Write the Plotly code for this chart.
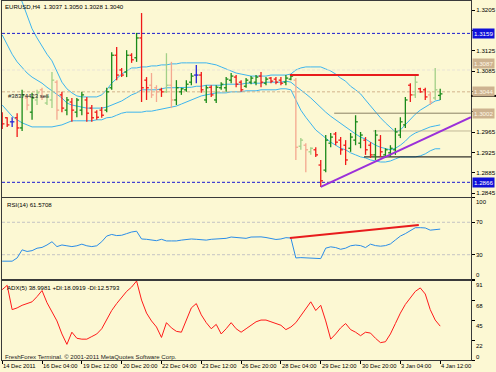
import plotly.graph_objects as go

# ---------------- data ----------------
X_LABELS = ["14 Dec 2011", "16 Dec 04:00", "19 Dec 12:00", "20 Dec 20:00", "22 Dec 04:00",
            "23 Dec 12:00", "26 Dec 20:00", "28 Dec 04:00", "29 Dec 12:00", "30 Dec 20:00",
            "3 Jan 04:00", "4 Jan 12:00"]
X_LABEL_BARS = [0, 8, 16, 24, 32, 40, 48, 56, 64, 72, 80, 88]

OPEN = [1.2996, 1.2993, 1.2985, 1.2993, 1.2973, 1.3032, 1.3004, 1.3028, 1.3048, 1.3022,
        1.3028, 1.3063, 1.3038, 1.3008, 1.3024, 1.3004, 1.3008, 1.3028, 1.3012, 1.3004,
        1.3008, 1.3008, 1.3052, 1.3116, 1.3087, 1.3083, 1.3116, 1.3111, 1.3150, 1.3067,
        1.3057, 1.3052, 1.3048, 1.3044, 1.3057, 1.3028, 1.3044, 1.3048, 1.3063, 1.3077,
        1.3077, 1.3028, 1.3053, 1.3028, 1.3052, 1.3052, 1.3067, 1.3073, 1.3063, 1.3055,
        1.3063, 1.3063, 1.3075, 1.3061, 1.3071, 1.3069, 1.3067, 1.3063, 1.3069, 1.3067,
        1.2937, 1.2939, 1.2926, 1.2930, 1.2900, 1.2890, 1.2943, 1.2961, 1.2949, 1.2939,
        1.2933, 1.2949, 1.2943, 1.2949, 1.2939, 1.2920, 1.2949, 1.2920, 1.2924, 1.2930,
        1.2959, 1.2979, 1.3057, 1.3038, 1.3050, 1.3048, 1.3038, 1.3032, 1.3037]
HIGH = [1.3004, 1.2994, 1.2994, 1.3002, 1.3048, 1.3038, 1.3042, 1.3048, 1.3052, 1.3038,
        1.3083, 1.3067, 1.3044, 1.3034, 1.3032, 1.3032, 1.3044, 1.3034, 1.3018, 1.3008,
        1.3014, 1.3052, 1.3122, 1.3132, 1.3091, 1.3126, 1.3120, 1.3160, 1.3199, 1.3073,
        1.3081, 1.3057, 1.3052, 1.3120, 1.3103, 1.3067, 1.3052, 1.3067, 1.3081, 1.3097,
        1.3083, 1.3057, 1.3057, 1.3057, 1.3063, 1.3073, 1.3081, 1.3077, 1.3067, 1.3071,
        1.3075, 1.3077, 1.3083, 1.3073, 1.3073, 1.3073, 1.3073, 1.3077, 1.3077, 1.3071,
        1.2953, 1.2943, 1.2935, 1.2935, 1.2910, 1.2959, 1.2963, 1.2965, 1.2955, 1.2949,
        1.2963, 1.2998, 1.2965, 1.2955, 1.2945, 1.2969, 1.2959, 1.2933, 1.2939, 1.2973,
        1.2994, 1.3034, 1.3061, 1.3077, 1.3052, 1.3052, 1.3044, 1.3091, 1.3050]
LOW = [1.2971, 1.2975, 1.2975, 1.2955, 1.2967, 1.3008, 1.2989, 1.3018, 1.3028, 1.3018,
       1.3012, 1.2989, 1.3004, 1.2998, 1.2985, 1.2994, 1.2998, 1.2985, 1.2985, 1.2989,
       1.2993, 1.3004, 1.3048, 1.3067, 1.3073, 1.3073, 1.3101, 1.3103, 1.3024, 1.3028,
       1.3032, 1.3024, 1.3034, 1.3042, 1.3012, 1.3018, 1.3038, 1.3044, 1.3057, 1.3061,
       1.3042, 1.3022, 1.3034, 1.3022, 1.3048, 1.3044, 1.3061, 1.3053, 1.3044, 1.3052,
       1.3059, 1.3057, 1.3053, 1.3057, 1.3061, 1.3059, 1.3057, 1.3057, 1.3067, 1.2910,
       1.2930, 1.2886, 1.2920, 1.2916, 1.2857, 1.2886, 1.2935, 1.2939, 1.2920, 1.2900,
       1.2926, 1.2939, 1.2933, 1.2920, 1.2914, 1.2910, 1.2916, 1.2914, 1.2916, 1.2920,
       1.2953, 1.2973, 1.3024, 1.3032, 1.3042, 1.3028, 1.3018, 1.3028, 1.3028]
CLOSE = [1.2981, 1.2979, 1.2985, 1.2973, 1.3038, 1.3018, 1.3032, 1.3042, 1.3034, 1.3034,
         1.3067, 1.3008, 1.3012, 1.3028, 1.3008, 1.3028, 1.3038, 1.3002, 1.2993, 1.2994,
         1.2998, 1.3044, 1.3116, 1.3077, 1.3077, 1.3116, 1.3107, 1.3150, 1.3052, 1.3052,
         1.3038, 1.3044, 1.3044, 1.3057, 1.3028, 1.3052, 1.3050, 1.3059, 1.3075, 1.3077,
         1.3048, 1.3052, 1.3038, 1.3053, 1.3059, 1.3069, 1.3075, 1.3059, 1.3048, 1.3067,
         1.3071, 1.3073, 1.3063, 1.3069, 1.3065, 1.3063, 1.3061, 1.3071, 1.3075, 1.2935,
         1.2949, 1.2930, 1.2933, 1.2920, 1.2869, 1.2949, 1.2955, 1.2945, 1.2930, 1.2910,
         1.2955, 1.2985, 1.2959, 1.2930, 1.2920, 1.2959, 1.2926, 1.2930, 1.2933, 1.2965,
         1.2985, 1.3028, 1.3038, 1.3063, 1.3044, 1.3034, 1.3024, 1.3048, 1.3040]
BAR_STYLE = ['r', 'r', 'b', 'r', 'g', 'lr', 'g', 'lg', 'lr', 'lg',
             'lg', 'lr', 'r', 'g', 'r', 'g', 'g', 'r', 'r', 'r',
             'r', 'g', 'g', 'r', 'r', 'g', 'r', 'g', 'r', 'r',
             'lr', 'lr', 'r', 'lg', 'lr', 'g', 'g', 'g', 'g', 'b',
             'r', 'g', 'r', 'g', 'g', 'g', 'g', 'r', 'r', 'g',
             'g', 'g', 'r', 'g', 'r', 'r', 'r', 'g', 'g', 'lr',
             'lg', 'lr', 'lg', 'r', 'r', 'g', 'g', 'r', 'r', 'r',
             'g', 'g', 'g', 'r', 'r', 'g', 'r', 'g', 'g', 'g',
             'g', 'g', 'r', 'lg', 'r', 'r', 'lr', 'lg', 'g']

BB_UPPER = [1.3313, 1.3288, 1.3262, 1.3240, 1.3221, 1.3195, 1.3168, 1.3150, 1.3134, 1.3118,
            1.3105, 1.3085, 1.3063, 1.3050, 1.3042, 1.3036, 1.3034, 1.3034, 1.3034, 1.3034,
            1.3038, 1.3048, 1.3061, 1.3071, 1.3079, 1.3085, 1.3091, 1.3091, 1.3093, 1.3093,
            1.3095, 1.3095, 1.3097, 1.3097, 1.3099, 1.3099, 1.3101, 1.3101, 1.3101, 1.3101,
            1.3101, 1.3101, 1.3099, 1.3097, 1.3093, 1.3089, 1.3085, 1.3081, 1.3079, 1.3077,
            1.3075, 1.3075, 1.3075, 1.3075, 1.3077, 1.3077, 1.3077, 1.3077, 1.3079, 1.3087,
            1.3091, 1.3093, 1.3093, 1.3093, 1.3093, 1.3089, 1.3085, 1.3079, 1.3071, 1.3065,
            1.3055, 1.3048, 1.3040, 1.3028, 1.3016, 1.3004, 1.2993, 1.2983, 1.2973, 1.2965,
            1.2969, 1.2979, 1.2991, 1.3000, 1.3008, 1.3014, 1.3020, 1.3026, 1.3028]
BB_MIDDLE = [1.3156, 1.3136, 1.3118, 1.3103, 1.3091, 1.3081, 1.3073, 1.3067, 1.3061, 1.3053,
             1.3046, 1.3038, 1.3032, 1.3022, 1.3018, 1.3016, 1.3014, 1.3012, 1.3012, 1.3012,
             1.3012, 1.3014, 1.3018, 1.3022, 1.3026, 1.3032, 1.3038, 1.3042, 1.3048, 1.3048,
             1.3048, 1.3048, 1.3050, 1.3052, 1.3052, 1.3052, 1.3053, 1.3053, 1.3053, 1.3055,
             1.3055, 1.3057, 1.3057, 1.3057, 1.3057, 1.3059, 1.3059, 1.3059, 1.3059, 1.3061,
             1.3061, 1.3061, 1.3061, 1.3063, 1.3063, 1.3063, 1.3063, 1.3065, 1.3063, 1.3055,
             1.3048, 1.3040, 1.3032, 1.3022, 1.3012, 1.3004, 1.2996, 1.2989, 1.2981, 1.2975,
             1.2967, 1.2961, 1.2955, 1.2951, 1.2945, 1.2939, 1.2935, 1.2932, 1.2930, 1.2933,
             1.2939, 1.2947, 1.2957, 1.2963, 1.2967, 1.2971, 1.2975, 1.2977, 1.2979]
BB_LOWER = [1.3018, 1.3006, 1.2996, 1.2989, 1.2983, 1.2979, 1.2975, 1.2975, 1.2975, 1.2975,
            1.2975, 1.2977, 1.2979, 1.2983, 1.2987, 1.2987, 1.2987, 1.2987, 1.2987, 1.2989,
            1.2989, 1.2993, 1.2994, 1.2998, 1.3002, 1.3004, 1.3004, 1.3004, 1.3004, 1.3006,
            1.3006, 1.3008, 1.3010, 1.3012, 1.3014, 1.3016, 1.3020, 1.3024, 1.3028, 1.3032,
            1.3036, 1.3038, 1.3040, 1.3042, 1.3042, 1.3042, 1.3044, 1.3044, 1.3044, 1.3046,
            1.3046, 1.3046, 1.3048, 1.3048, 1.3048, 1.3048, 1.3050, 1.3050, 1.3048, 1.3028,
            1.3008, 1.2994, 1.2981, 1.2969, 1.2961, 1.2953, 1.2945, 1.2939, 1.2933, 1.2930,
            1.2924, 1.2920, 1.2916, 1.2914, 1.2910, 1.2908, 1.2906, 1.2906, 1.2908, 1.2912,
            1.2916, 1.2916, 1.2916, 1.2916, 1.2918, 1.2922, 1.2928, 1.2932, 1.2932]

RSI = [22, 22, 22, 26, 36, 34, 35, 38, 39, 42,
       46, 40, 42, 41, 40, 41, 43, 41, 40, 41,
       46, 53, 55, 53.6, 54, 56, 58, 59, 49.4, 49,
       48, 47.3, 49, 47, 47, 47, 48, 49, 49.4, 49,
       48.8, 48, 49, 49.3, 49.4, 50.2, 51.8, 51.2, 50, 50.2,
       51.8, 52.2, 52, 51.2, 50.4, 48.8, 49.4, 51, 50.6, 26,
       26.4, 26.3, 26, 26, 25.2, 38.1, 39.7, 38.8, 36.7, 38.1,
       41, 41.9, 41.2, 38.8, 43, 41.2, 40.5, 41.2, 43.3, 48.2,
       53, 56, 59.7, 63.3, 63.4, 63, 60.3, 61.1, 61.57]
ADX = [81, 86, 58, 60, 63, 65, 67, 73, 80, 66,
       56, 45, 30, 18, 32, 25, 24, 24, 27, 30,
       36, 46, 57, 65, 72, 79, 84, 91, 69, 54,
       45, 38, 26, 43, 37, 33, 32, 46, 60, 65,
       52, 43, 36, 41, 30, 36, 43, 36, 32, 36,
       40, 44, 46, 46, 44, 42, 40, 35, 38, 43,
       51, 58, 67, 57, 63, 45, 24, 30, 37, 42,
       35, 32, 28, 32, 31, 25, 20, 21, 30, 42,
       54, 64, 72, 79, 83, 76, 58, 46, 39]

PRICE_TICKS = [1.3205, 1.3165, 1.3125, 1.3085, 1.3045, 1.3005, 1.2965, 1.2925, 1.2885, 1.2845]
# labels hidden behind the price boxes on the scale are left blank
PRICE_TICK_LABELS = ["1.3205", "", "1.3125", "1.3085", "", "", "1.2965", "1.2925", "1.2885", "1.2845"]
PRICE_RANGE = [1.28371, 1.32227]
RSI_TICKS = [100, 70, 30, 0]
RSI_LEVELS = [70, 30]
ADX_TICKS = [91, 68, 45, 22, 0]

BLUE_LEVELS = [1.3159, 1.2866]
TAN_LEVEL = 1.3044
PALE_LEVEL = 1.3087
RESIST_BARS = [57.8, 83.7]
RESIST_PRICE = 1.3077
OLIVE_START, OLIVE_PRICE = 66.7, 1.3002
LIGHT_OLIVE_START, LIGHT_OLIVE_PRICE = 74.5, 1.2967
BLACK_START, BLACK_PRICE = 72.7, 1.2916
SUPPORT_BARS = [64, 94.19]
SUPPORT_PRICES = [1.2857, 1.2994]
RSI_TREND_BARS = [57.8, 83.7]
RSI_TREND_VALUES = [50.6, 66.7]

BLUE_BOXES = [1.3159, 1.2866]
TAN_BOXES = [1.3087, 1.3044, 1.3002]

TITLE = "EURUSD,H4  1.3037 1.3050 1.3028 1.3040"
ORDER_TEXT = "#38374423 sell"
RSI_TEXT = "RSI(14) 61.5708"
ADX_TEXT = "ADX(5) 38.9981 +DI:18.0919 -DI:12.5793"
COPYRIGHT = "FreshForex Terminal. \u00a9 2001-2011 MetaQuotes Software Corp."

# ---------------- style ----------------
BG = "#fcf8d3"
FRAME = "#3a3a3a"
FONT = "Liberation Sans, Arial, sans-serif"
X_RANGE = [-0.04, 94.19]
BAR_COLORS = {'g': '#198a19', 'r': '#f01818', 'b': '#2424d8', 'lg': '#a2d088', 'lr': '#f4a890'}
BAND_COLOR = "#3db5ee"

fig = go.Figure()
N = len(CLOSE)
idx = list(range(N))

for band in (BB_UPPER, BB_MIDDLE, BB_LOWER):
    fig.add_trace(go.Scatter(x=idx, y=band, mode='lines', line=dict(color=BAND_COLOR, width=1),
                             xaxis='x', yaxis='y', hoverinfo='skip'))

for lv in BLUE_LEVELS:
    fig.add_trace(go.Scatter(x=X_RANGE, y=[lv, lv], mode='lines',
                             line=dict(color='#1a1ad0', width=1, dash='3px,2px'),
                             xaxis='x', yaxis='y', hoverinfo='skip'))
fig.add_trace(go.Scatter(x=X_RANGE, y=[TAN_LEVEL, TAN_LEVEL], mode='lines',
                         line=dict(color='#d2b48c', width=1, dash='3px,2px'),
                         xaxis='x', yaxis='y', hoverinfo='skip'))
fig.add_trace(go.Scatter(x=X_RANGE, y=[PALE_LEVEL, PALE_LEVEL], mode='lines',
                         line=dict(color='#e9e4d6', width=1, dash='3px,2px'),
                         xaxis='x', yaxis='y', hoverinfo='skip'))

fig.add_trace(go.Scatter(x=[OLIVE_START, X_RANGE[1]], y=[OLIVE_PRICE, OLIVE_PRICE], mode='lines',
                         line=dict(color='#8a8266', width=1), xaxis='x', yaxis='y', hoverinfo='skip'))
fig.add_trace(go.Scatter(x=[LIGHT_OLIVE_START, X_RANGE[1]], y=[LIGHT_OLIVE_PRICE, LIGHT_OLIVE_PRICE],
                         mode='lines', line=dict(color='#c2ba98', width=1), xaxis='x', yaxis='y',
                         hoverinfo='skip'))
fig.add_trace(go.Scatter(x=[BLACK_START, X_RANGE[1]], y=[BLACK_PRICE, BLACK_PRICE], mode='lines',
                         line=dict(color='#000000', width=1), xaxis='x', yaxis='y', hoverinfo='skip'))

for key, col in BAR_COLORS.items():
    xs, ys = [], []
    for i in idx:
        if BAR_STYLE[i] != key:
            continue
        xs += [i, i, None, i - 0.45, i, None, i, i + 0.45, None]
        ys += [LOW[i], HIGH[i], None, OPEN[i], OPEN[i], None, CLOSE[i], CLOSE[i], None]
    fig.add_trace(go.Scatter(x=xs, y=ys, mode='lines', line=dict(color=col, width=1.3),
                             xaxis='x', yaxis='y', hoverinfo='skip'))

fig.add_trace(go.Scatter(x=RESIST_BARS, y=[RESIST_PRICE, RESIST_PRICE], mode='lines',
                         line=dict(color='#e81c1c', width=2), xaxis='x', yaxis='y', hoverinfo='skip'))
fig.add_trace(go.Scatter(x=SUPPORT_BARS, y=SUPPORT_PRICES, mode='lines',
                         line=dict(color='#9b30d9', width=2), xaxis='x', yaxis='y', hoverinfo='skip'))

for lv in RSI_LEVELS:
    fig.add_trace(go.Scatter(x=X_RANGE, y=[lv, lv], mode='lines',
                             line=dict(color='#c4c4c4', width=1, dash='3px,2px'),
                             xaxis='x2', yaxis='y2', hoverinfo='skip'))
fig.add_trace(go.Scatter(x=idx, y=RSI, mode='lines', line=dict(color='#2a8de8', width=1),
                         xaxis='x2', yaxis='y2', hoverinfo='skip'))
fig.add_trace(go.Scatter(x=RSI_TREND_BARS, y=RSI_TREND_VALUES, mode='lines',
                         line=dict(color='#e81c1c', width=2), xaxis='x2', yaxis='y2', hoverinfo='skip'))

fig.add_trace(go.Scatter(x=idx, y=ADX, mode='lines', line=dict(color='#ff1a1a', width=1),
                         xaxis='x3', yaxis='y3', hoverinfo='skip'))

common_x = dict(range=X_RANGE, showgrid=False, zeroline=False, showline=True, mirror=True,
                linecolor=FRAME, linewidth=1, showticklabels=False, fixedrange=True)
common_y = dict(side='right', showgrid=False, zeroline=False, showline=True, mirror=True,
                linecolor=FRAME, linewidth=1, ticks='outside', ticklen=3, tickcolor='#000')

fig.update_layout(
    width=496, height=372, margin=dict(l=2, r=25, t=1, b=12),
    paper_bgcolor=BG, plot_bgcolor=BG, showlegend=False,
    font=dict(family=FONT, size=6, color='#000'),
    xaxis=dict(anchor='y', domain=[0, 1], ticks='', **common_x),
    xaxis2=dict(anchor='y2', domain=[0, 1], matches='x', ticks='', **common_x),
    xaxis3=dict(anchor='y3', domain=[0, 1], matches='x', ticks='outside', ticklen=3,
                tickcolor='#000', tickvals=X_LABEL_BARS, **common_x),
    yaxis=dict(anchor='x', domain=[0.4540, 1.0], range=PRICE_RANGE, tickvals=PRICE_TICKS,
               ticktext=PRICE_TICK_LABELS,
               tickfont=dict(size=6.2, color='#000', family=FONT), **common_y),
    yaxis2=dict(anchor='x2', domain=[0.2256, 0.4513], range=[0, 100], tickvals=RSI_TICKS,
                showticklabels=False, **common_y),
    yaxis3=dict(anchor='x3', domain=[0.0, 0.2201], range=[0, 91], tickvals=ADX_TICKS,
                showticklabels=False, **common_y),
)

ann = []
def text(x, y, s, size=6.1, color='#000'):
    ann.append(dict(xref='paper', yref='paper', x=x, y=y, text=s, showarrow=False,
                    xanchor='left', yanchor='middle', font=dict(size=size, color=color, family=FONT)))

text(0.002, 0.986, TITLE)
text(0.0085, 0.7354, ORDER_TEXT, size=6, color='#222')
text(0.0064, 0.4345, RSI_TEXT)
text(0.0064, 0.2033, ADX_TEXT)
text(0.002, 0.0111, COPYRIGHT, color='#222')

for b, lab in zip(X_LABEL_BARS, X_LABELS):
    ann.append(dict(xref='x3', yref='paper', x=b, y=-0.0167, text=lab, showarrow=False,
                    xanchor='left', yanchor='middle', xshift=-1,
                    font=dict(size=5.8, color='#000', family=FONT)))

for k, v in enumerate(RSI_TICKS):
    sh = -4 if k == 0 else (4 if k == len(RSI_TICKS) - 1 else 0)
    ann.append(dict(xref='paper', yref='y2', x=1, y=v, text=str(v), showarrow=False,
                    xanchor='left', yanchor='middle', xshift=3, yshift=sh,
                    font=dict(size=6, color='#000', family=FONT)))
for k, v in enumerate(ADX_TICKS):
    sh = -4 if k == 0 else (3 if k == len(ADX_TICKS) - 1 else -5)
    ann.append(dict(xref='paper', yref='y3', x=1, y=v, text=str(v), showarrow=False,
                    xanchor='left', yanchor='middle', xshift=3, yshift=sh,
                    font=dict(size=6, color='#000', family=FONT)))

for p in BLUE_BOXES:
    ann.append(dict(xref='paper', yref='y', x=1, y=p, text=f"{p:.4f}", showarrow=False,
                    xanchor='left', yanchor='middle', xshift=1, bgcolor='#1010d8', borderpad=1,
                    font=dict(size=6.2, color='#ffffff', family=FONT)))
for p in TAN_BOXES:
    sh = 6 if p == PALE_LEVEL else 0
    ann.append(dict(xref='paper', yref='y', x=1, y=p, text=f"{p:.4f}", showarrow=False,
                    xanchor='left', yanchor='middle', xshift=1, yshift=sh, bgcolor='#cdb390',
                    borderpad=1, font=dict(size=6.2, color='#fff8e6', family=FONT)))
fig.update_layout(annotations=ann)

fig.add_shape(type='line', xref='paper', yref='y', x0=1.0, x1=1.06, y0=1.3036, y1=1.3036,
              line=dict(color='#000', width=2))

fig.write_html("out.html", config={'displayModeBar': False},
               post_script="document.body.style.margin='0';document.body.style.padding='0';"
                           "document.body.style.background='" + BG + "';")
